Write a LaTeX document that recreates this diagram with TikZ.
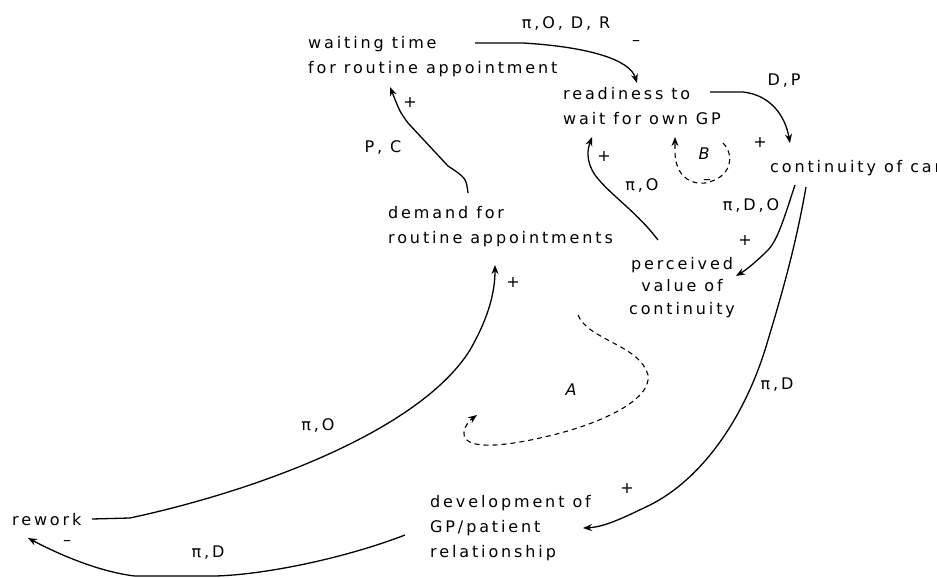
\documentclass[tikz,border=0pt]{standalone}
\usepackage{fontspec}
\setmainfont[LetterSpace=18]{DejaVu Sans}
\usetikzlibrary{arrows.meta}

\tikzset{
  txt/.style={font=\fontsize{16}{25}\selectfont, inner sep=0pt},
  var/.style={txt, align=left, anchor=north west},
  link/.style={line width=1.3pt, -{Stealth[length=9pt, width=7pt]}},
  loopline/.style={link, line width=1.1pt, dash pattern=on 5pt off 4pt}
}

\begin{document}
\begin{tikzpicture}[x=1pt, y=-1pt]
  \useasboundingbox (0,0) rectangle (937,578);
  % variables
  \node[var] (wait) at (308,36) {waiting time\\for routine appointment};
  \node[var] (ready) at (563,87) {readiness to\\wait for own GP};
  \node[var] (cont) at (770,160) {continuity of care};
  \node[var] (demand) at (388,206) {demand for\\routine appointments};
  \node[txt, align=center, anchor=north, font=\fontsize{16}{22.5}\selectfont] (perc) at (682,257) {perceived\\value of\\continuity};
  \node[var] (rework) at (12,513) {rework};
  \node[var] (dev) at (430,495) {development of\\GP/patient\\relationship};

  % links
  \draw[link] ([shift={(167,7)}]wait.north west) -- +(48,0)
    .. controls (590,47) and (630,60) .. ([shift={(74,-4)}]ready.north west);
  \draw[link] ([shift={(147,5)}]ready.north west) -- +(33,0)
    .. controls (770,95) and (785,115) .. ([shift={(20,-17)}]cont.north west);
  \draw[link] ([shift={(25,25)}]cont.north west)
    .. controls (785,215) and (778,240) .. (768,250)
    .. controls (756,262) and (746,270) .. ([shift={(54,19)}]perc.north);
  \draw[link] ([shift={(36,27)}]cont.north west)
    .. controls (795,250) and (780,300) .. (768,340)
    .. controls (745,420) and (700,480) .. (650,505)
    .. controls (625,517) and (605,527) .. ([shift={(153,33)}]dev.north west);
  \draw[link] ([shift={(-24,-17)}]perc.north)
    .. controls (635,210) and (610,195) .. (595,175)
    .. controls (585,160) and (588,148) .. ([shift={(29,50)}]ready.north west);
  \draw[link] ([shift={(80,-13)}]demand.north west)
    .. controls (466,178) .. (448,166) -- (408,123)
    .. controls (400,112) .. ([shift={(82,51)}]wait.north west);
  \draw[link] ([shift={(80,6)}]rework.north west) -- (130,518)
    .. controls (260,490) and (420,430) .. (470,350)
    .. controls (490,315) and (495,290) .. ([shift={(107,59)}]demand.north west);
  \draw[link] ([shift={(-25,40)}]dev.north west)
    .. controls (340,560) and (260,575) .. (215,576) -- (135,576)
    .. controls (100,572) and (60,555) .. ([shift={(16,25)}]rework.north west);

  % loops
  \draw[loopline] (723,143) .. controls (735,155) and (732,178) .. (705,183)
    .. controls (685,185) and (675,170) .. (675,152) -- (675,137);
  \draw[loopline] (578,315) .. controls (588,340) and (640,345) .. (648,375)
    .. controls (652,400) and (600,425) .. (540,438)
    .. controls (500,447) and (462,450) .. (464,432)
    .. controls (465,425) and (470,420) .. (477,415);
  \node[txt, font=\fontsize{16}{25}\itshape] (loopB) at (704,154) {B};
  \node[txt, font=\fontsize{16}{25}\itshape] (loopA) at (571,390) {A};

  % polarities and delays
  \node[txt] (pWR) at (566,23) {π,O, D, R};
  \node[txt] (sWR) at (636,43) {–};
  \node[txt] (sDW) at (410,102) {+};
  \node[txt] (pDW) at (383,147) {P, C};
  \node[txt] (pRC) at (784,81) {D,P};
  \node[txt] (sRC) at (760,142) {+};
  \node[txt] (sPR) at (604,156) {+};
  \node[txt] (pPR) at (642,185) {π,O};
  \node[txt] (sB) at (707,182) {–};
  \node[txt] (pCP) at (751,205) {π,D,O};
  \node[txt] (sCP) at (745,240) {+};
  \node[txt] (pCD) at (777,385) {π,D};
  \node[txt] (sCD) at (627,488) {+};
  \node[txt] (pRD) at (318,425) {π,O};
  \node[txt] (sRD) at (513,282) {+};
  \node[txt] (sDR) at (67,543) {–};
  \node[txt] (pDR) at (208,553) {π,D};
\end{tikzpicture}
\end{document}
